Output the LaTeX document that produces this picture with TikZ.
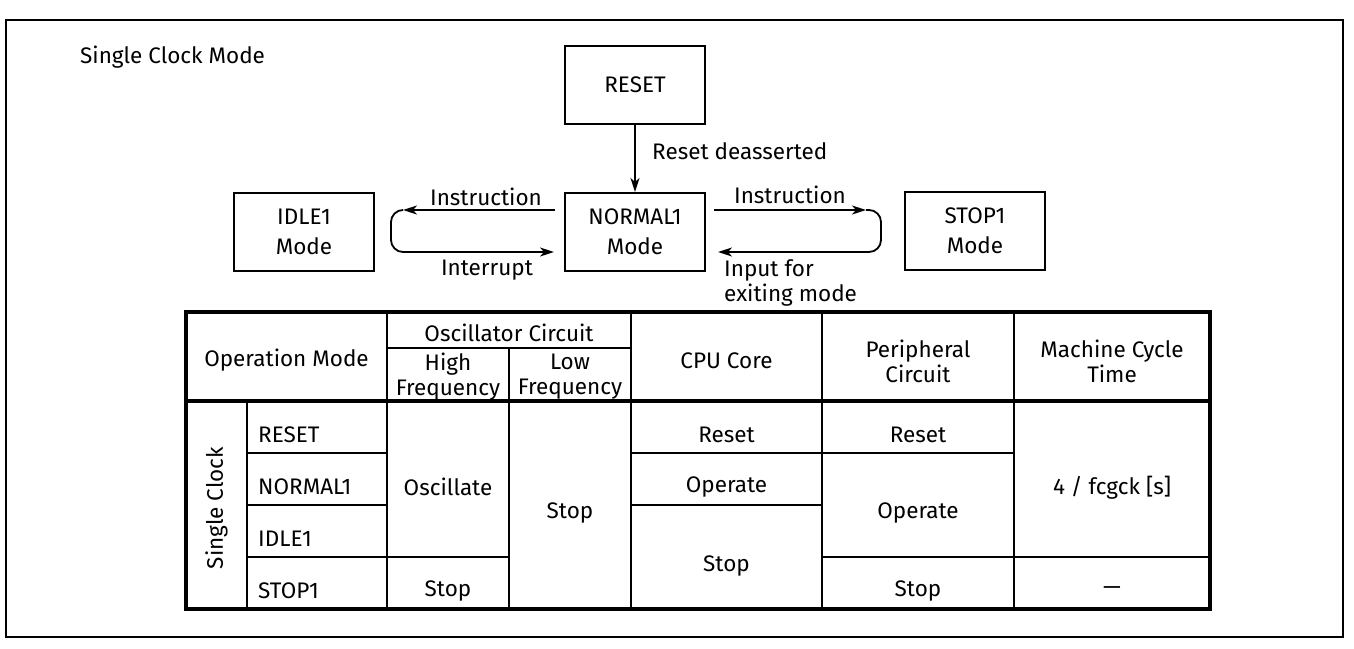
\documentclass[tikz,border=0pt]{standalone}
\usepackage{fontspec}
\setmainfont{Fira Sans}
\usetikzlibrary{arrows.meta,calc}
\begin{document}
\begin{tikzpicture}[x=1pt,y=-1pt,
  every node/.style={font=\fontsize{22.5}{25}\selectfont, inner sep=0pt, align=center},
  modebox/.style={draw, line width=2pt, minimum width=140pt, minimum height=78pt, font=\fontsize{22.5}{30}\selectfont},
  arr/.style={line width=1.8pt, -{Stealth[length=14pt,width=9pt,inset=4pt]}},
  loop/.style={arr, rounded corners=12pt},
  frame/.style={line width=2pt},
  tline/.style={line width=2.2pt},
  tthick/.style={line width=3.8pt},
]
\useasboundingbox (0,0) rectangle (1354,648);
\draw[frame] (6,20) rectangle (1343,637);

\node[anchor=west] (title) at (80,57) {Single Clock Mode};

\node[modebox] (R) at (635,85) {RESET};
\node[modebox] (N) at (635,232) {NORMAL1\\Mode};
\node[modebox] (I) at (304,232) {IDLE1\\Mode};
\node[modebox] (S) at (975,231) {STOP1\\Mode};

\draw[arr] (R.south) -- (N.north);
\node[anchor=west] (lrd) at (652,151) {Reset deasserted};

% left loop
\coordinate (l1) at ($(N.west)+(-9,-22)$);
\coordinate (l2) at ($(N.west)+(-161,-22)$);
\coordinate (l3) at ($(N.west)+(-173,-22)$);
\coordinate (l4) at ($(N.west)+(-173,20)$);
\coordinate (l5) at ($(N.west)+(-10,20)$);
\draw[arr] (l1) -- (l2);
\draw[loop] (l2) -- (l3) -- (l4) -- (l5);
\node (lin1) at (486,197) {Instruction};
\node (lint) at (487,270) {Interrupt};

% right loop
\coordinate (r1) at ($(N.east)+(8,-22)$);
\coordinate (r2) at ($(N.east)+(160,-22)$);
\coordinate (r3) at ($(N.east)+(175,-22)$);
\coordinate (r4) at ($(N.east)+(175,20)$);
\coordinate (r5) at ($(N.east)+(12,20)$);
\draw[arr] (r1) -- (r2);
\draw[loop] (r2) -- (r3) -- (r4) -- (r5);
\node (rin1) at (790,195) {Instruction};
\node[anchor=west, align=left] (rinp) at (724,283) {Input for\\exiting mode};

% table lines
\draw[tline] (387,312) -- (387,609);
\draw[tline] (631,312) -- (631,609);
\draw[tline] (822,312) -- (822,609);
\draw[tline] (1014,312) -- (1014,609);
\draw[tline] (509,348) -- (509,609);
\draw[tline] (387,348) -- (631,348);
\draw[tline] (247,401) -- (247,609);
\draw[tline] (247,453) -- (387,453);
\draw[tline] (247,505) -- (387,505);
\draw[tline] (247,557) -- (509,557);
\draw[tline] (631,453) -- (1014,453);
\draw[tline] (631,505) -- (822,505);
\draw[tline] (822,557) -- (1210,557);
\draw[tthick] (186,401) -- (1210,401);
\draw[tthick] (186,312) rectangle (1210,609);

% header texts
\node (h1) at (286.5,360) {Operation Mode};
\node (h2) at (509,333) {Oscillator Circuit};
\node (h3) at (448,377) {High\\Frequency};
\node (h4) at (570,377) {Low\\Frequency};
\node (h5) at (726.5,361) {CPU Core};
\node (h6) at (918,361) {Peripheral\\Circuit};
\node (h7) at (1112,361) {Machine Cycle\\Time};

% body texts
\node[rotate=90] (sc) at (216.5,508) {Single Clock};
\node[anchor=west] (m1) at (258,435) {RESET};
\node[anchor=west] (m2) at (258,487) {NORMAL1};
\node[anchor=west] (m3) at (258,539) {IDLE1};
\node[anchor=west] (m4) at (258,591) {STOP1};
\node (o1) at (448,487) {Oscillate};
\node (o2) at (448,591) {Stop};
\node (o3) at (570,513) {Stop};
\node (c1) at (726.5,435) {Reset};
\node (c2) at (726.5,487) {Operate};
\node (c3) at (726.5,566) {Stop};
\node (p1) at (918,435) {Reset};
\node (p2) at (918,513) {Operate};
\node (p3) at (918,591) {Stop};
\node (t1) at (1112,488) {4 / fcgck [s]};
\node (t2) at (1112,591) {—};
\end{tikzpicture}
\end{document}
